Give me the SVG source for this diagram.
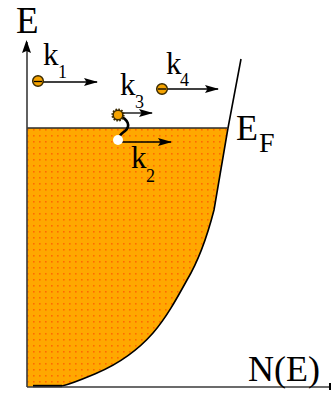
<svg xmlns="http://www.w3.org/2000/svg" width="331" height="394" viewBox="0 0 331 394">
<style>
.t{font-family:"Liberation Serif","Times New Roman",serif;fill:#000}
.ax{stroke:#3a3a3a;stroke-width:1.6;fill:none}
.arr{stroke:#000;stroke-width:1.3;fill:none;marker-end:url(#ah)}
.el{fill:#f5a300;stroke:#3a2a00;stroke-width:1.5}
</style>
<defs>
<pattern id="dots" x="1" y="1" width="6" height="6" patternUnits="userSpaceOnUse">
<rect width="6" height="6" fill="#ffa800"/>
<rect x="2" y="2" width="1.6" height="1.6" fill="#ff6a00"/>
</pattern>
<marker id="ah" viewBox="0 0 14 8" refX="13" refY="4" markerWidth="14" markerHeight="8" markerUnits="userSpaceOnUse" orient="auto">
<path d="M0,0 L14,4 L0,8 L2.5,4 z" fill="#000"/>
</marker>
</defs>
<g id="band">
<path d="M27,128 L228,128 L214,210 C205,245 196,265 187,280 C176,300 166,318 153,333 C138,350 118,364 97,373 C85,378 74,383 62,386 L27,387 Z" fill="url(#dots)"/>
<path d="M241,59 L228,128 L214,210 C205,245 196,265 187,280 C176,300 166,318 153,333 C138,350 118,364 97,373 C85,378 74,383 62,386" fill="none" stroke="#000" stroke-width="1.6" stroke-linejoin="round"/>
<line x1="33" y1="386" x2="62" y2="386" stroke="#000" stroke-width="2.4"/>
<line x1="27" y1="128" x2="228" y2="128" stroke="#2a2a2a" stroke-width="1.6"/>
</g>
<g id="axes">
<line class="ax" x1="27" y1="387" x2="27" y2="42"/>
<path d="M26.5,40 L31,53 L26.5,51 L22,53 z" fill="#000"/>
<line class="ax" x1="27" y1="387" x2="331" y2="387"/>
<line x1="330" y1="383" x2="330" y2="390" stroke="#000" stroke-width="2"/>
<text class="t" x="16" y="33" font-size="37">E</text>
<text class="t" x="248" y="381" font-size="36">N(E)</text>
</g>
<g id="fermi">
<text class="t" x="236" y="140" font-size="36">E</text>
<text class="t" x="259" y="152" font-size="28">F</text>
</g>
<g id="connectors">
<line class="arr" x1="36" y1="82" x2="97" y2="82"/>
<line class="arr" x1="162" y1="89" x2="218" y2="89"/>
<line class="arr" x1="120" y1="113" x2="152" y2="113"/>
<line class="arr" x1="121" y1="142" x2="171" y2="142"/>
<path d="M119,116 C128,119 131,126 125,131 C121,134 118,136 120,141" fill="none" stroke="#000" stroke-width="2.6" stroke-linecap="round"/>
</g>
<g id="k1">
<circle class="el" cx="38" cy="81" r="5.3"/>
<line x1="34" y1="81.5" x2="42" y2="81.5" stroke="#000" stroke-width="1.3"/>
<text class="t" x="43" y="65" font-size="31">k</text>
<text class="t" x="58" y="78" font-size="18">1</text>
</g>
<g id="k4">
<circle class="el" cx="162" cy="89" r="5.3"/>
<line x1="158" y1="89" x2="166" y2="89" stroke="#000" stroke-width="1.3"/>
<text class="t" x="166" y="74" font-size="31">k</text>
<text class="t" x="180" y="86" font-size="18">4</text>
</g>
<g id="k3">
<circle cx="118" cy="115" r="5.8" fill="none" stroke="#3a2a00" stroke-width="1.6" stroke-dasharray="1.6 1.4"/>
<circle class="el" cx="118" cy="115" r="4.8"/>
<text class="t" x="120" y="95" font-size="31">k</text>
<text class="t" x="135" y="108" font-size="18">3</text>
</g>
<g id="k2">
<circle cx="118" cy="140" r="5" fill="#fff"/>
<text class="t" x="131" y="168" font-size="31">k</text>
<text class="t" x="146" y="182" font-size="18">2</text>
</g>
</svg>
